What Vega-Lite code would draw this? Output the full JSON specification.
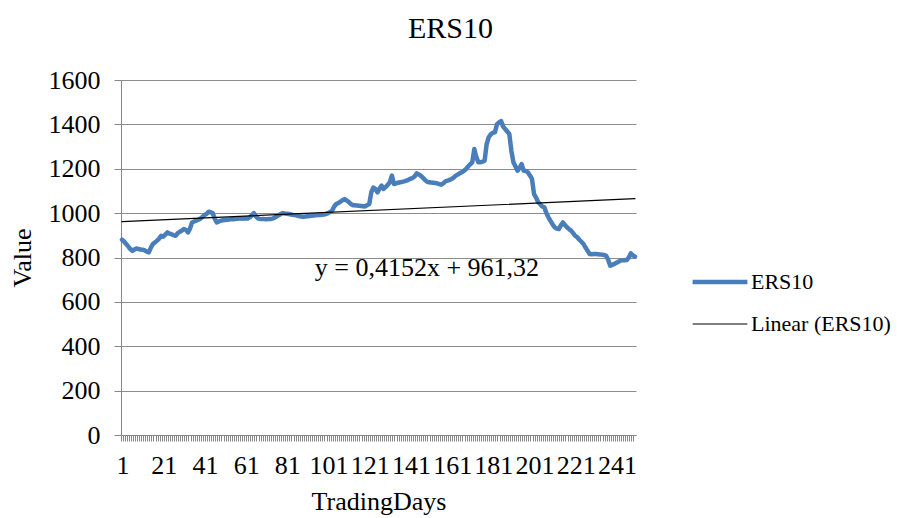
{
  "$schema": "https://vega.github.io/schema/vega-lite/v6.json",
  "width": 515,
  "height": 355,
  "autosize": {"type": "none"},
  "padding": {"left": 121, "top": 80, "right": 273, "bottom": 83},
  "title": {"text": "ERS10", "font": "Liberation Serif", "fontSize": 30, "fontWeight": "normal", "color": "#000000", "anchor": "middle", "dx": 72, "offset": 23},
  "config": {
    "view": {"stroke": null},
    "font": "Liberation Serif",
    "axis": {"labelFont": "Liberation Serif", "titleFont": "Liberation Serif", "labelFontSize": 26, "titleFontSize": 26, "titleFontWeight": "normal", "labelColor": "#000000", "titleColor": "#000000", "domainColor": "#868686", "tickColor": "#868686", "gridColor": "#8c8c8c", "domainWidth": 1, "tickWidth": 1, "gridWidth": 1},
    "legend": {"orient": "none", "legendX": 569, "legendY": 172, "title": null, "labelFont": "Liberation Serif", "labelFontSize": 22, "labelColor": "#000000", "symbolType": "stroke", "symbolSize": 3000, "labelOffset": 1, "rowPadding": 3}
  },
  "layer": [
    {
      "data": {"values": [
        {"day":1,"value":880,"series":"ERS10"},{"day":2,"value":872,"series":"ERS10"},{"day":3,"value":861,"series":"ERS10"},{"day":4,"value":850,"series":"ERS10"},{"day":5,"value":838,"series":"ERS10"},{"day":6,"value":830,"series":"ERS10"},{"day":7,"value":836,"series":"ERS10"},{"day":8,"value":841,"series":"ERS10"},{"day":9,"value":838,"series":"ERS10"},{"day":10,"value":836,"series":"ERS10"},
        {"day":11,"value":835,"series":"ERS10"},{"day":12,"value":832,"series":"ERS10"},{"day":13,"value":826,"series":"ERS10"},{"day":14,"value":823,"series":"ERS10"},{"day":15,"value":845,"series":"ERS10"},{"day":16,"value":861,"series":"ERS10"},{"day":17,"value":868,"series":"ERS10"},{"day":18,"value":876,"series":"ERS10"},{"day":19,"value":885,"series":"ERS10"},{"day":20,"value":898,"series":"ERS10"},
        {"day":21,"value":894,"series":"ERS10"},{"day":22,"value":903,"series":"ERS10"},{"day":23,"value":913,"series":"ERS10"},{"day":24,"value":908,"series":"ERS10"},{"day":25,"value":905,"series":"ERS10"},{"day":26,"value":901,"series":"ERS10"},{"day":27,"value":898,"series":"ERS10"},{"day":28,"value":909,"series":"ERS10"},{"day":29,"value":916,"series":"ERS10"},{"day":30,"value":921,"series":"ERS10"},
        {"day":31,"value":928,"series":"ERS10"},{"day":32,"value":925,"series":"ERS10"},{"day":33,"value":913,"series":"ERS10"},{"day":34,"value":930,"series":"ERS10"},{"day":35,"value":958,"series":"ERS10"},{"day":36,"value":962,"series":"ERS10"},{"day":37,"value":966,"series":"ERS10"},{"day":38,"value":970,"series":"ERS10"},{"day":39,"value":975,"series":"ERS10"},{"day":40,"value":983,"series":"ERS10"},
        {"day":41,"value":991,"series":"ERS10"},{"day":42,"value":997,"series":"ERS10"},{"day":43,"value":1006,"series":"ERS10"},{"day":44,"value":1004,"series":"ERS10"},{"day":45,"value":1000,"series":"ERS10"},{"day":46,"value":975,"series":"ERS10"},{"day":47,"value":958,"series":"ERS10"},{"day":48,"value":962,"series":"ERS10"},{"day":49,"value":966,"series":"ERS10"},{"day":50,"value":968,"series":"ERS10"},
        {"day":51,"value":969,"series":"ERS10"},{"day":52,"value":970,"series":"ERS10"},{"day":53,"value":971,"series":"ERS10"},{"day":54,"value":973,"series":"ERS10"},{"day":55,"value":972,"series":"ERS10"},{"day":56,"value":973,"series":"ERS10"},{"day":57,"value":975,"series":"ERS10"},{"day":58,"value":976,"series":"ERS10"},{"day":59,"value":976,"series":"ERS10"},{"day":60,"value":975,"series":"ERS10"},
        {"day":61,"value":977,"series":"ERS10"},{"day":62,"value":976,"series":"ERS10"},{"day":63,"value":981,"series":"ERS10"},{"day":64,"value":990,"series":"ERS10"},{"day":65,"value":1000,"series":"ERS10"},{"day":66,"value":985,"series":"ERS10"},{"day":67,"value":976,"series":"ERS10"},{"day":68,"value":974,"series":"ERS10"},{"day":69,"value":973,"series":"ERS10"},{"day":70,"value":973,"series":"ERS10"},
        {"day":71,"value":972,"series":"ERS10"},{"day":72,"value":973,"series":"ERS10"},{"day":73,"value":973,"series":"ERS10"},{"day":74,"value":975,"series":"ERS10"},{"day":75,"value":979,"series":"ERS10"},{"day":76,"value":985,"series":"ERS10"},{"day":77,"value":990,"series":"ERS10"},{"day":78,"value":996,"series":"ERS10"},{"day":79,"value":1000,"series":"ERS10"},{"day":80,"value":998,"series":"ERS10"},
        {"day":81,"value":997,"series":"ERS10"},{"day":82,"value":996,"series":"ERS10"},{"day":83,"value":994,"series":"ERS10"},{"day":84,"value":992,"series":"ERS10"},{"day":85,"value":991,"series":"ERS10"},{"day":86,"value":989,"series":"ERS10"},{"day":87,"value":986,"series":"ERS10"},{"day":88,"value":985,"series":"ERS10"},{"day":89,"value":984,"series":"ERS10"},{"day":90,"value":985,"series":"ERS10"},
        {"day":91,"value":986,"series":"ERS10"},{"day":92,"value":987,"series":"ERS10"},{"day":93,"value":988,"series":"ERS10"},{"day":94,"value":989,"series":"ERS10"},{"day":95,"value":990,"series":"ERS10"},{"day":96,"value":991,"series":"ERS10"},{"day":97,"value":992,"series":"ERS10"},{"day":98,"value":993,"series":"ERS10"},{"day":99,"value":994,"series":"ERS10"},{"day":100,"value":996,"series":"ERS10"},
        {"day":101,"value":1000,"series":"ERS10"},{"day":102,"value":1005,"series":"ERS10"},{"day":103,"value":1012,"series":"ERS10"},{"day":104,"value":1030,"series":"ERS10"},{"day":105,"value":1041,"series":"ERS10"},{"day":106,"value":1046,"series":"ERS10"},{"day":107,"value":1051,"series":"ERS10"},{"day":108,"value":1058,"series":"ERS10"},{"day":109,"value":1063,"series":"ERS10"},{"day":110,"value":1057,"series":"ERS10"},
        {"day":111,"value":1051,"series":"ERS10"},{"day":112,"value":1042,"series":"ERS10"},{"day":113,"value":1036,"series":"ERS10"},{"day":114,"value":1035,"series":"ERS10"},{"day":115,"value":1034,"series":"ERS10"},{"day":116,"value":1033,"series":"ERS10"},{"day":117,"value":1032,"series":"ERS10"},{"day":118,"value":1031,"series":"ERS10"},{"day":119,"value":1030,"series":"ERS10"},{"day":120,"value":1036,"series":"ERS10"},
        {"day":121,"value":1041,"series":"ERS10"},{"day":122,"value":1094,"series":"ERS10"},{"day":123,"value":1115,"series":"ERS10"},{"day":124,"value":1109,"series":"ERS10"},{"day":125,"value":1094,"series":"ERS10"},{"day":126,"value":1110,"series":"ERS10"},{"day":127,"value":1124,"series":"ERS10"},{"day":128,"value":1109,"series":"ERS10"},{"day":129,"value":1118,"series":"ERS10"},{"day":130,"value":1128,"series":"ERS10"},
        {"day":131,"value":1139,"series":"ERS10"},{"day":132,"value":1169,"series":"ERS10"},{"day":133,"value":1131,"series":"ERS10"},{"day":134,"value":1134,"series":"ERS10"},{"day":135,"value":1137,"series":"ERS10"},{"day":136,"value":1139,"series":"ERS10"},{"day":137,"value":1141,"series":"ERS10"},{"day":138,"value":1143,"series":"ERS10"},{"day":139,"value":1146,"series":"ERS10"},{"day":140,"value":1150,"series":"ERS10"},
        {"day":141,"value":1155,"series":"ERS10"},{"day":142,"value":1158,"series":"ERS10"},{"day":143,"value":1165,"series":"ERS10"},{"day":144,"value":1179,"series":"ERS10"},{"day":145,"value":1175,"series":"ERS10"},{"day":146,"value":1169,"series":"ERS10"},{"day":147,"value":1160,"series":"ERS10"},{"day":148,"value":1150,"series":"ERS10"},{"day":149,"value":1142,"series":"ERS10"},{"day":150,"value":1139,"series":"ERS10"},
        {"day":151,"value":1138,"series":"ERS10"},{"day":152,"value":1137,"series":"ERS10"},{"day":153,"value":1136,"series":"ERS10"},{"day":154,"value":1134,"series":"ERS10"},{"day":155,"value":1131,"series":"ERS10"},{"day":156,"value":1128,"series":"ERS10"},{"day":157,"value":1135,"series":"ERS10"},{"day":158,"value":1143,"series":"ERS10"},{"day":159,"value":1146,"series":"ERS10"},{"day":160,"value":1150,"series":"ERS10"},
        {"day":161,"value":1154,"series":"ERS10"},{"day":162,"value":1160,"series":"ERS10"},{"day":163,"value":1169,"series":"ERS10"},{"day":164,"value":1174,"series":"ERS10"},{"day":165,"value":1180,"series":"ERS10"},{"day":166,"value":1184,"series":"ERS10"},{"day":167,"value":1191,"series":"ERS10"},{"day":168,"value":1199,"series":"ERS10"},{"day":169,"value":1210,"series":"ERS10"},{"day":170,"value":1220,"series":"ERS10"},
        {"day":171,"value":1229,"series":"ERS10"},{"day":172,"value":1289,"series":"ERS10"},{"day":173,"value":1252,"series":"ERS10"},{"day":174,"value":1229,"series":"ERS10"},{"day":175,"value":1229,"series":"ERS10"},{"day":176,"value":1232,"series":"ERS10"},{"day":177,"value":1236,"series":"ERS10"},{"day":178,"value":1311,"series":"ERS10"},{"day":179,"value":1342,"series":"ERS10"},{"day":180,"value":1355,"series":"ERS10"},
        {"day":181,"value":1362,"series":"ERS10"},{"day":182,"value":1364,"series":"ERS10"},{"day":183,"value":1400,"series":"ERS10"},{"day":184,"value":1409,"series":"ERS10"},{"day":185,"value":1415,"series":"ERS10"},{"day":186,"value":1390,"series":"ERS10"},{"day":187,"value":1379,"series":"ERS10"},{"day":188,"value":1368,"series":"ERS10"},{"day":189,"value":1357,"series":"ERS10"},{"day":190,"value":1281,"series":"ERS10"},
        {"day":191,"value":1229,"series":"ERS10"},{"day":192,"value":1210,"series":"ERS10"},{"day":193,"value":1191,"series":"ERS10"},{"day":194,"value":1205,"series":"ERS10"},{"day":195,"value":1221,"series":"ERS10"},{"day":196,"value":1191,"series":"ERS10"},{"day":197,"value":1190,"series":"ERS10"},{"day":198,"value":1184,"series":"ERS10"},{"day":199,"value":1170,"series":"ERS10"},{"day":200,"value":1154,"series":"ERS10"},
        {"day":201,"value":1086,"series":"ERS10"},{"day":202,"value":1070,"series":"ERS10"},{"day":203,"value":1049,"series":"ERS10"},{"day":204,"value":1040,"series":"ERS10"},{"day":205,"value":1030,"series":"ERS10"},{"day":206,"value":1026,"series":"ERS10"},{"day":207,"value":1000,"series":"ERS10"},{"day":208,"value":981,"series":"ERS10"},{"day":209,"value":965,"series":"ERS10"},{"day":210,"value":950,"series":"ERS10"},
        {"day":211,"value":936,"series":"ERS10"},{"day":212,"value":930,"series":"ERS10"},{"day":213,"value":928,"series":"ERS10"},{"day":214,"value":945,"series":"ERS10"},{"day":215,"value":958,"series":"ERS10"},{"day":216,"value":946,"series":"ERS10"},{"day":217,"value":936,"series":"ERS10"},{"day":218,"value":928,"series":"ERS10"},{"day":219,"value":921,"series":"ERS10"},{"day":220,"value":910,"series":"ERS10"},
        {"day":221,"value":898,"series":"ERS10"},{"day":222,"value":891,"series":"ERS10"},{"day":223,"value":880,"series":"ERS10"},{"day":224,"value":871,"series":"ERS10"},{"day":225,"value":861,"series":"ERS10"},{"day":226,"value":845,"series":"ERS10"},{"day":227,"value":830,"series":"ERS10"},{"day":228,"value":816,"series":"ERS10"},{"day":229,"value":815,"series":"ERS10"},{"day":230,"value":816,"series":"ERS10"},
        {"day":231,"value":816,"series":"ERS10"},{"day":232,"value":815,"series":"ERS10"},{"day":233,"value":814,"series":"ERS10"},{"day":234,"value":813,"series":"ERS10"},{"day":235,"value":811,"series":"ERS10"},{"day":236,"value":808,"series":"ERS10"},{"day":237,"value":790,"series":"ERS10"},{"day":238,"value":763,"series":"ERS10"},{"day":239,"value":767,"series":"ERS10"},{"day":240,"value":771,"series":"ERS10"},
        {"day":241,"value":776,"series":"ERS10"},{"day":242,"value":781,"series":"ERS10"},{"day":243,"value":786,"series":"ERS10"},{"day":244,"value":787,"series":"ERS10"},{"day":245,"value":788,"series":"ERS10"},{"day":246,"value":789,"series":"ERS10"},{"day":247,"value":800,"series":"ERS10"},{"day":248,"value":819,"series":"ERS10"},{"day":249,"value":810,"series":"ERS10"},{"day":250,"value":804,"series":"ERS10"},
        {"day":1,"value":961.74,"series":"Linear (ERS10)"},{"day":250,"value":1065.12,"series":"Linear (ERS10)"}
      ]},
      "mark": {"type": "line", "strokeJoin": "round", "strokeCap": "round"},
      "encoding": {
        "x": {"field": "day", "type": "ordinal", "sort": "ascending",
          "scale": {"type": "band", "paddingInner": 0, "paddingOuter": 0},
          "axis": {"grid": false, "bandPosition": 0, "tickSize": 6, "labelAngle": 0, "labelExpr": "(datum.value - 1) % 20 == 0 ? datum.label : ''", "labelOffset": 1, "labelPadding": 11, "labelOverlap": false, "labelBound": false, "labelFlush": false, "title": "TradingDays", "titlePadding": 10}},
        "y": {"field": "value", "type": "quantitative",
          "scale": {"domain": [0, 1600], "nice": false, "zero": true},
          "axis": {"values": [0, 200, 400, 600, 800, 1000, 1200, 1400, 1600], "format": "d", "grid": true, "tickSize": 7, "labelPadding": 14, "title": "Value", "titlePadding": 13}},
        "color": {"field": "series", "type": "nominal", "scale": {"domain": ["ERS10", "Linear (ERS10)"], "range": ["#4a7ebb", "#000000"]}},
        "strokeWidth": {"field": "series", "type": "nominal", "scale": {"domain": ["ERS10", "Linear (ERS10)"], "range": [4.5, 1.2]}}
      }
    },
    {
      "data": {"values": [{}]},
      "mark": {"type": "text", "font": "Liberation Serif", "fontSize": 26, "color": "#000000", "align": "center", "baseline": "middle"},
      "encoding": {
        "x": {"datum": 149, "type": "ordinal"},
        "y": {"datum": 753, "type": "quantitative"},
        "text": {"value": "y = 0,4152x + 961,32"}
      }
    }
  ]
}
